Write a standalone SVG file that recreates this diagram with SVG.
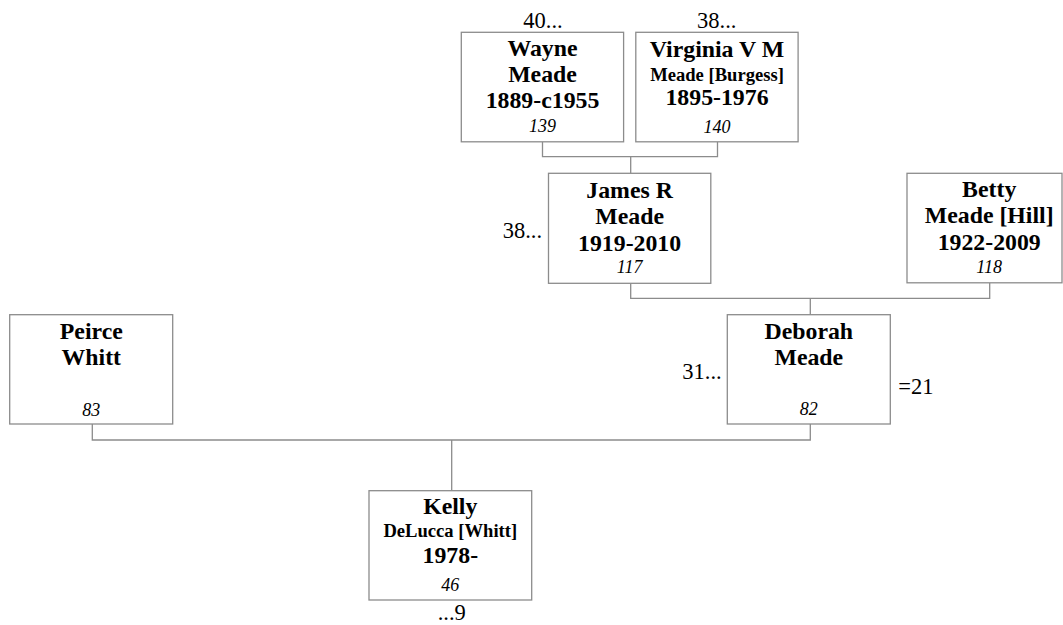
<svg xmlns="http://www.w3.org/2000/svg" width="1063" height="625" viewBox="0 0 1063 625">
<style>
rect.box{fill:#fff;stroke:#8c8c8c;stroke-width:1.3}
.c path{fill:none;stroke:#8c8c8c;stroke-width:1.3}
text{font-family:"Liberation Serif","Times New Roman",serif;fill:#000;text-anchor:middle}
.n{font-size:23.8px;font-weight:bold}
.s{font-size:18.6px;font-weight:bold}
.i{font-size:18px;font-style:italic}
.l{font-size:22.5px}
</style>
<rect width="1063" height="625" fill="#fff"/>
<g class="c" id="connectors">
<path d="M542.5,141.8V156.7H717.5V141.8M630.7,156.7V173.3"/>
<path d="M630.7,283.3V298.3H989.7V283M810.3,298.3V314.7"/>
<path d="M92.3,424V440H810.3V424M451.7,440V490.7"/>
</g>
<g id="wayne">
<rect class="box" x="461.3" y="32.3" width="162.3" height="109.5"/>
<text class="l" x="543" y="28.3">40...</text>
<text class="n" x="542.5" y="56">Wayne</text>
<text class="n" x="542.5" y="82">Meade</text>
<text class="n" x="542.5" y="108.3">1889-c1955</text>
<text class="i" x="542.5" y="132">139</text>
</g>
<g id="virginia">
<rect class="box" x="635.8" y="32.3" width="162.3" height="109.5"/>
<text class="l" x="716.7" y="28.3">38...</text>
<text class="n" x="717" y="57.3">Virginia V M</text>
<text class="s" x="717" y="80.8">Meade [Burgess]</text>
<text class="n" x="717" y="104.8">1895-1976</text>
<text class="i" x="717" y="132.7">140</text>
</g>
<g id="james">
<rect class="box" x="548.5" y="173.3" width="162.3" height="110"/>
<text class="l" x="542" y="238.3" style="text-anchor:end">38...</text>
<text class="n" x="629.6" y="198.3">James R</text>
<text class="n" x="629.6" y="224">Meade</text>
<text class="n" x="629.6" y="250.7">1919-2010</text>
<text class="i" x="629.6" y="273.3">117</text>
</g>
<g id="betty">
<rect class="box" x="907" y="173.3" width="155" height="109.5"/>
<text class="n" x="989.2" y="197.3">Betty</text>
<text class="n" x="989.2" y="223.3">Meade [Hill]</text>
<text class="n" x="989.2" y="250">1922-2009</text>
<text class="i" x="989.2" y="273.3">118</text>
</g>
<g id="peirce">
<rect class="box" x="9.7" y="314.7" width="163" height="109.3"/>
<text class="n" x="91.3" y="339.3">Peirce</text>
<text class="n" x="91.3" y="365">Whitt</text>
<text class="i" x="91.3" y="415.7">83</text>
</g>
<g id="deborah">
<rect class="box" x="727.3" y="314.7" width="163" height="109.3"/>
<text class="l" x="721.7" y="379.3" style="text-anchor:end">31...</text>
<text class="l" x="898.3" y="394.3" style="text-anchor:start">=21</text>
<text class="n" x="808.8" y="339.3">Deborah</text>
<text class="n" x="808.8" y="365">Meade</text>
<text class="i" x="808.8" y="415.3">82</text>
</g>
<g id="kelly">
<rect class="box" x="369" y="490.7" width="162.7" height="109.3"/>
<text class="n" x="450.3" y="514.3">Kelly</text>
<text class="s" x="450.3" y="537.3">DeLucca [Whitt]</text>
<text class="n" x="450.3" y="562.7">1978-</text>
<text class="i" x="450.3" y="590.7">46</text>
<text class="l" x="451.7" y="620">...9</text>
</g>
</svg>
